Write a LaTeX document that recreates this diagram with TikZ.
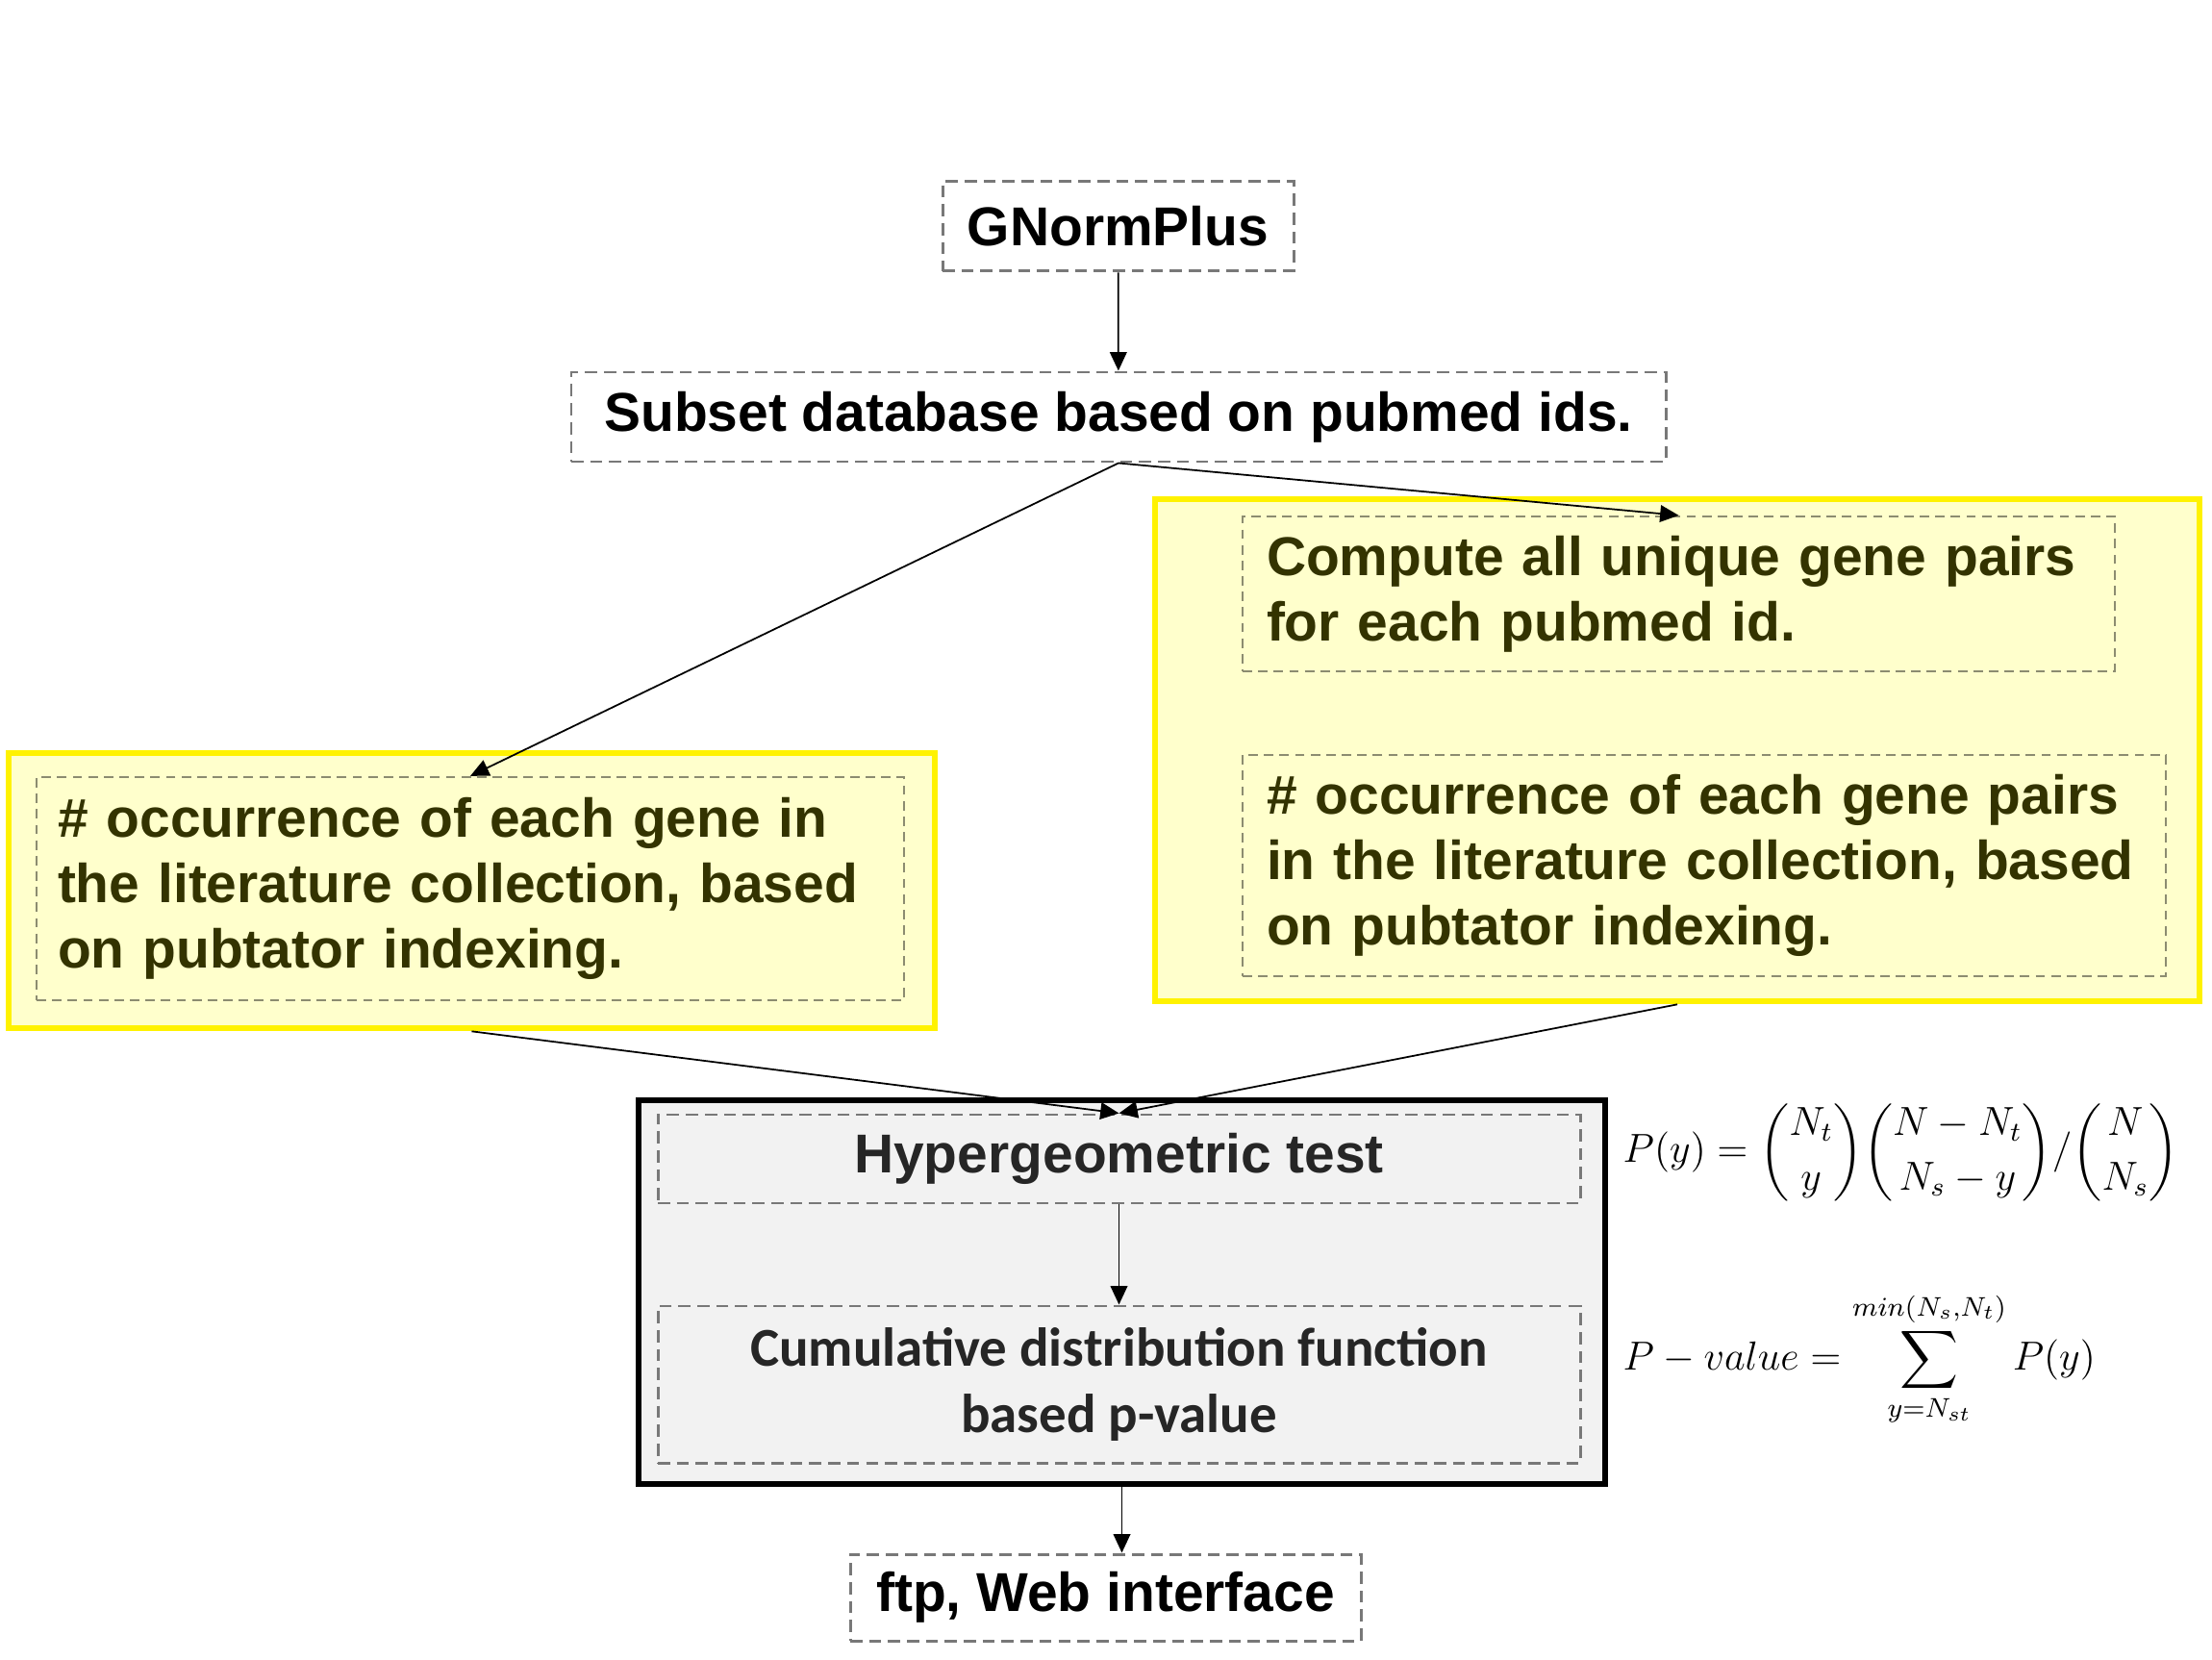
\documentclass[tikz,border=0pt]{standalone}
\usepackage{amsmath}
\usepackage{fontspec}
\setmainfont{Liberation Sans}
\newfontfamily\cdffont{Carlito}
\usepackage{xcolor}
\usepackage{tikz}
\usetikzlibrary{arrows.meta,positioning}
\definecolor{olivetext}{RGB}{51,51,0}
\definecolor{dashgray}{RGB}{120,120,120}
\definecolor{dasholive}{RGB}{140,140,112}
\definecolor{paleyellow}{RGB}{255,255,204}
\definecolor{panelgray}{RGB}{242,242,242}
\definecolor{darktext}{RGB}{38,38,38}
\tikzset{
  bigfont/.style    ={font=\fontsize{16.2}{19.4}\selectfont\bfseries},
  plainbox/.style   ={draw=dashgray,line width=0.85pt,dash pattern=on 3.6pt off 2pt,bigfont,inner sep=0pt,align=center},
  yelbox/.style     ={draw=yellow,fill=paleyellow,line width=1.9pt,inner sep=0pt},
  yelinner/.style   ={draw=dasholive,line width=0.65pt,dash pattern=on 2.8pt off 1.8pt,bigfont,text=olivetext,align=left,inner ysep=0pt},
  panel/.style      ={draw=black,fill=panelgray,line width=1.7pt,inner sep=0pt},
  panelinner/.style ={draw=dashgray,line width=0.85pt,dash pattern=on 3.6pt off 2pt,bigfont,text=darktext,align=center,inner sep=0pt},
  formula/.style    ={font=\fontsize{12}{14}\selectfont,inner sep=0pt,anchor=west},
  flow/.style       ={-{Triangle[length=5.5pt,width=5pt]},line width=0.5pt},
}

\begin{document}
\begin{tikzpicture}
  \useasboundingbox (0,0) rectangle (23,17.25);
  % top of the flow
  \node[plainbox,minimum width=3.65cm,minimum height=0.93cm] (gnorm) at (11.625,14.895) {GNormPlus};
  \node[plainbox,minimum width=11.38cm,minimum height=0.93cm] (subset) at (11.63,12.915) {Subset database based on pubmed ids.};
  % yellow panels
  \node[yelbox,minimum width=10.86cm,minimum height=5.22cm] (rightpanel) at (17.44,9.45) {};
  \node[yelbox,minimum width=9.63cm,minimum height=2.86cm] (leftpanel) at (4.905,7.99) {};
  \node[yelinner,text width=8.57cm,inner xsep=0.25cm,minimum height=1.61cm] (compute) at (17.455,11.075)
    {Compute all unique gene pairs\\for each pubmed id.};
  \node[yelinner,text width=9.1cm,inner xsep=0.25cm,minimum height=2.3cm] (pairocc) at (17.72,8.25)
    {\# occurrence of each gene pairs\\in the literature collection, based\\on pubtator indexing.};
  \node[yelinner,text width=8.58cm,inner xsep=0.22cm,minimum height=2.32cm] (geneocc) at (4.89,8.01)
    {\# occurrence of each gene in\\the literature collection, based\\on pubtator indexing.};
  % test panel
  \node[panel,minimum width=10.05cm,minimum height=3.99cm] (testpanel) at (11.665,3.815) {};
  \node[panelinner,minimum width=9.59cm,minimum height=0.92cm] (hyper) at (11.635,5.2) {Hypergeometric test};
  \node[panelinner,minimum width=9.59cm,minimum height=1.63cm,font=\fontsize{16.2}{19.4}\selectfont\cdffont\bfseries] (cdf) at (11.635,2.855)
    {Cumulative distribution function\\based p-value};
  \node[plainbox,minimum width=5.31cm,minimum height=0.9cm] (ftp) at (11.495,0.64) {ftp, Web interface};
  % formulas
  \node[formula] (pyform) at (16.87,5.27)
    {$\displaystyle P(y)=\binom{N_t}{y}\binom{N-N_t}{N_s-y}/\binom{N}{N_s}$};
  \node[formula] (pvform) at (16.87,3.12)
    {$\displaystyle P-value=\sum_{y=N_{st}}^{min(N_s,N_t)}P(y)$};
  % connectors
  \draw[flow] (gnorm) -- (subset);
  \draw[flow] (subset.south) -- (geneocc.north);
  \draw[flow] (subset.south) -- (compute.north);
  \draw[flow] (leftpanel.south) -- (hyper.north);
  \draw[flow] (rightpanel.south) -- (hyper.north);
  \draw[flow] (hyper) -- (cdf);
  \draw[flow] (testpanel.south) -- (testpanel.south |- ftp.north);
\end{tikzpicture}
\end{document}
